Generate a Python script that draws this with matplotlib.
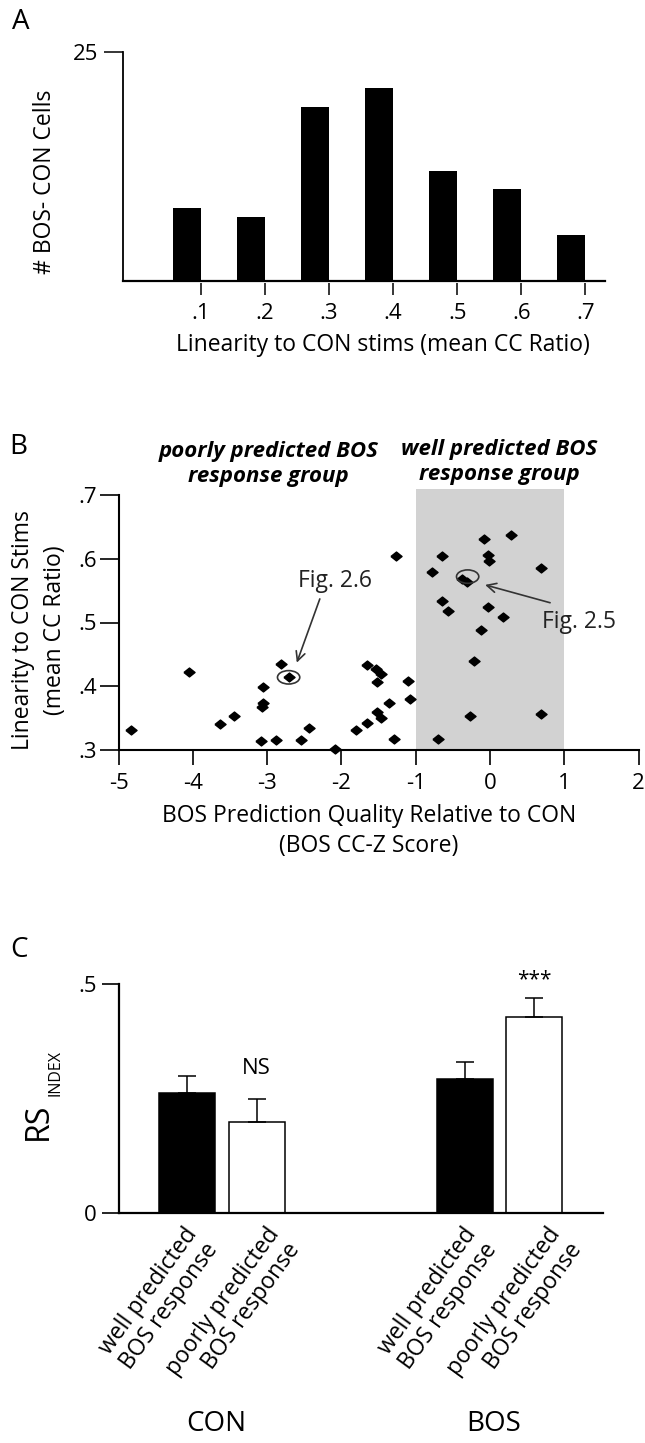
import matplotlib.pyplot as plt
from matplotlib.patches import Ellipse, Rectangle

plt.rcParams['font.family'] = ['Open Sans', 'DejaVu Sans']
plt.rcParams['font.size'] = 16.5

W, H = 645, 1443

# ---- panel A: histogram of linearity ----
a_bins = [0.1, 0.2, 0.3, 0.4, 0.5, 0.6, 0.7]
a_counts = [8, 7, 19, 21, 12, 10, 5]
a_ticklabels = ['.1', '.2', '.3', '.4', '.5', '.6', '.7']

# ---- panel B: z score vs linearity ----
b_z = [-4.83, -4.05, -3.64, -3.45, -3.08, -3.06, -3.05, -3.07, -2.88, -2.81,
       -2.70, -2.54, -2.44, -2.09, -1.80, -1.66, -1.65, -1.54, -1.47, -1.52,
       -1.52, -1.46, -1.36, -1.29, -1.27, -1.10, -1.08, -0.78, -0.70, -0.64,
       -0.65, -0.57, -0.38, -0.31, -0.27, -0.22, -0.12, -0.08, -0.02, -0.01,
       -0.03, 0.17, 0.28, 0.69, 0.69]
b_lin = [0.331, 0.422, 0.341, 0.354, 0.314, 0.399, 0.373, 0.368, 0.316, 0.435,
         0.414, 0.316, 0.335, 0.302, 0.332, 0.342, 0.433, 0.427, 0.420, 0.406,
         0.359, 0.350, 0.373, 0.317, 0.604, 0.409, 0.380, 0.579, 0.317, 0.605,
         0.534, 0.518, 0.568, 0.563, 0.354, 0.439, 0.488, 0.631, 0.606, 0.597,
         0.524, 0.508, 0.638, 0.586, 0.356]
b_xticks = [-5, -4, -3, -2, -1, 0, 1, 2]
b_yticks = [0.3, 0.4, 0.5, 0.6, 0.7]
b_yticklabels = ['.3', '.4', '.5', '.6', '.7']

# ---- panel C: RS index bars ----
c_labels = ['well predicted\nBOS response', 'poorly predicted\nBOS response',
            'well predicted\nBOS response', 'poorly predicted\nBOS response']
c_mean = [0.262, 0.199, 0.293, 0.428]
c_sem = [0.037, 0.050, 0.037, 0.041]
c_groups = ['CON', 'BOS']


def box(l, t, r, b):
    return [l / W, 1 - b / H, (r - l) / W, (b - t) / H]


def ftext(x, y, s, **kw):
    kw.setdefault('ha', 'center')
    kw.setdefault('va', 'center')
    fig.text(x / W, 1 - y / H, s, **kw)


fig = plt.figure(figsize=(W / 100, H / 100), dpi=100)

# A
ax1 = fig.add_axes(box(122.7, 51.7, 604.5, 281))
ax1.bar(a_bins, a_counts, width=-0.044, align='edge', color='black')
ax1.set_xlim(-0.0218, 0.7298)
ax1.set_ylim(0, 25)
ax1.spines[['top', 'right']].set_visible(False)
ax1.spines['bottom'].set_position(('outward', 1.5))
ax1.spines['bottom'].set_visible(False)
ax1.axhline(0, color='black', lw=1.6, clip_on=False)
ax1.spines['left'].set_linewidth(1.3)
ax1.set_xticks(a_bins, a_ticklabels)
ax1.set_yticks([25])
ax1.tick_params(axis='x', length=8.4, width=1.1, pad=6, labelsize=16)
ax1.tick_params(axis='y', length=13.4, width=1.1, pad=4, labelsize=16)
ftext(20.6, 21.7, 'A', fontsize=20)
ftext(382.5, 345, 'Linearity to CON stims (mean CC Ratio)')
ftext(45, 182, '# BOS- CON Cells', rotation=90)

# B
ax2 = fig.add_axes(box(118.5, 495, 638.5, 750))
ax2.set_xlim(-5, 2)
ax2.set_ylim(0.3, 0.7)
ax2.add_patch(Rectangle((-1, 0.3), 2, 0.409, fc='#d2d2d2', ec='none',
                        clip_on=False, zorder=0))
diamond = [(-1.25, 0), (0, 1), (1.25, 0), (0, -1), (-1.25, 0)]
ax2.plot(b_z, b_lin, ls='none', marker=diamond, ms=8, color='black',
         clip_on=False, zorder=3)
for cx, cy in [(-2.71, 0.414), (-0.30, 0.572)]:
    ax2.add_patch(Ellipse((cx, cy), 0.30, 0.021, fill=False, ec='#333333',
                          lw=1.2, zorder=4))
arrow = dict(arrowstyle='->', color='#333333', lw=1.2, shrinkA=0, shrinkB=0)
ax2.annotate('', xy=(-2.60, 0.437), xytext=(-2.29, 0.537), arrowprops=arrow)
ax2.annotate('', xy=(-0.065, 0.559), xytext=(0.81, 0.531), arrowprops=arrow)
ax2.text(-2.58, 0.556, 'Fig. 2.6', fontsize=16.5, color='#222222')
ax2.text(0.70, 0.492, 'Fig. 2.5', fontsize=16.5, color='#222222')
ax2.spines[['top', 'right']].set_visible(False)
ax2.spines[['left', 'bottom']].set_linewidth(1.5)
ax2.set_xticks(b_xticks, [str(v) for v in b_xticks])
ax2.set_yticks(b_yticks, b_yticklabels)
ax2.tick_params(axis='x', length=10.8, width=1.2, pad=6, labelsize=16)
ax2.tick_params(axis='y', length=13.7, width=1.2, pad=2, labelsize=16)
ftext(18.6, 447, 'B', fontsize=20)
ftext(268.6, 464, 'poorly predicted BOS\nresponse group', fontweight='bold',
      style='italic', fontsize=16, linespacing=1.25)
ftext(499, 462, 'well predicted BOS\nresponse group', fontweight='bold',
      style='italic', fontsize=16, linespacing=1.25)
ftext(39, 630, 'Linearity to CON Stims\n(mean CC Ratio)', rotation=90,
      linespacing=1.45)
ftext(369, 831, 'BOS Prediction Quality Relative to CON\n(BOS CC-Z Score)',
      linespacing=1.3)

# C
ax3 = fig.add_axes(box(119, 984, 602.5, 1212.7))
pos = [0, 1, 4, 5]
ax3.bar(pos, c_mean, width=0.81, color=['black', 'white', 'black', 'white'],
        edgecolor='black', lw=1.1, yerr=[[0] * 4, c_sem], capsize=6.5,
        error_kw=dict(elinewidth=1.1, capthick=1.1))
ax3.set_xlim(-0.987, 5.99)
ax3.set_ylim(0, 0.5)
ax3.spines[['top', 'right']].set_visible(False)
ax3.spines[['left', 'bottom']].set_linewidth(1.6)
ax3.set_xticks([])
ax3.set_yticks([0, 0.5], ['0', '.5'])
ax3.tick_params(axis='y', length=12, width=1.2, pad=4, labelsize=16)
label_dx = [-0.06, 0.12, -0.04, 0.18]
for p, lab, dx in zip(pos, c_labels, label_dx):
    ax3.text(p + dx, -0.045, lab, transform=ax3.get_xaxis_transform(),
             rotation=54, ha='right', va='top', rotation_mode='anchor',
             fontsize=16.5, linespacing=1.1)
ax3.text(1, 0.303, 'NS', ha='center', va='baseline', fontsize=16)
ax3.text(5, 0.497, '***', ha='center', va='baseline', fontsize=15)
ftext(18.6, 950, 'C', fontsize=20)
ftext(38, 1121, 'RS', rotation=90, fontsize=23)
ftext(55.5, 1073, 'INDEX', rotation=90, fontsize=11.5)
ftext(216, 1424, c_groups[0], fontsize=20)
ftext(494, 1424, c_groups[1], fontsize=20)

fig.savefig('out.png', dpi=100)
